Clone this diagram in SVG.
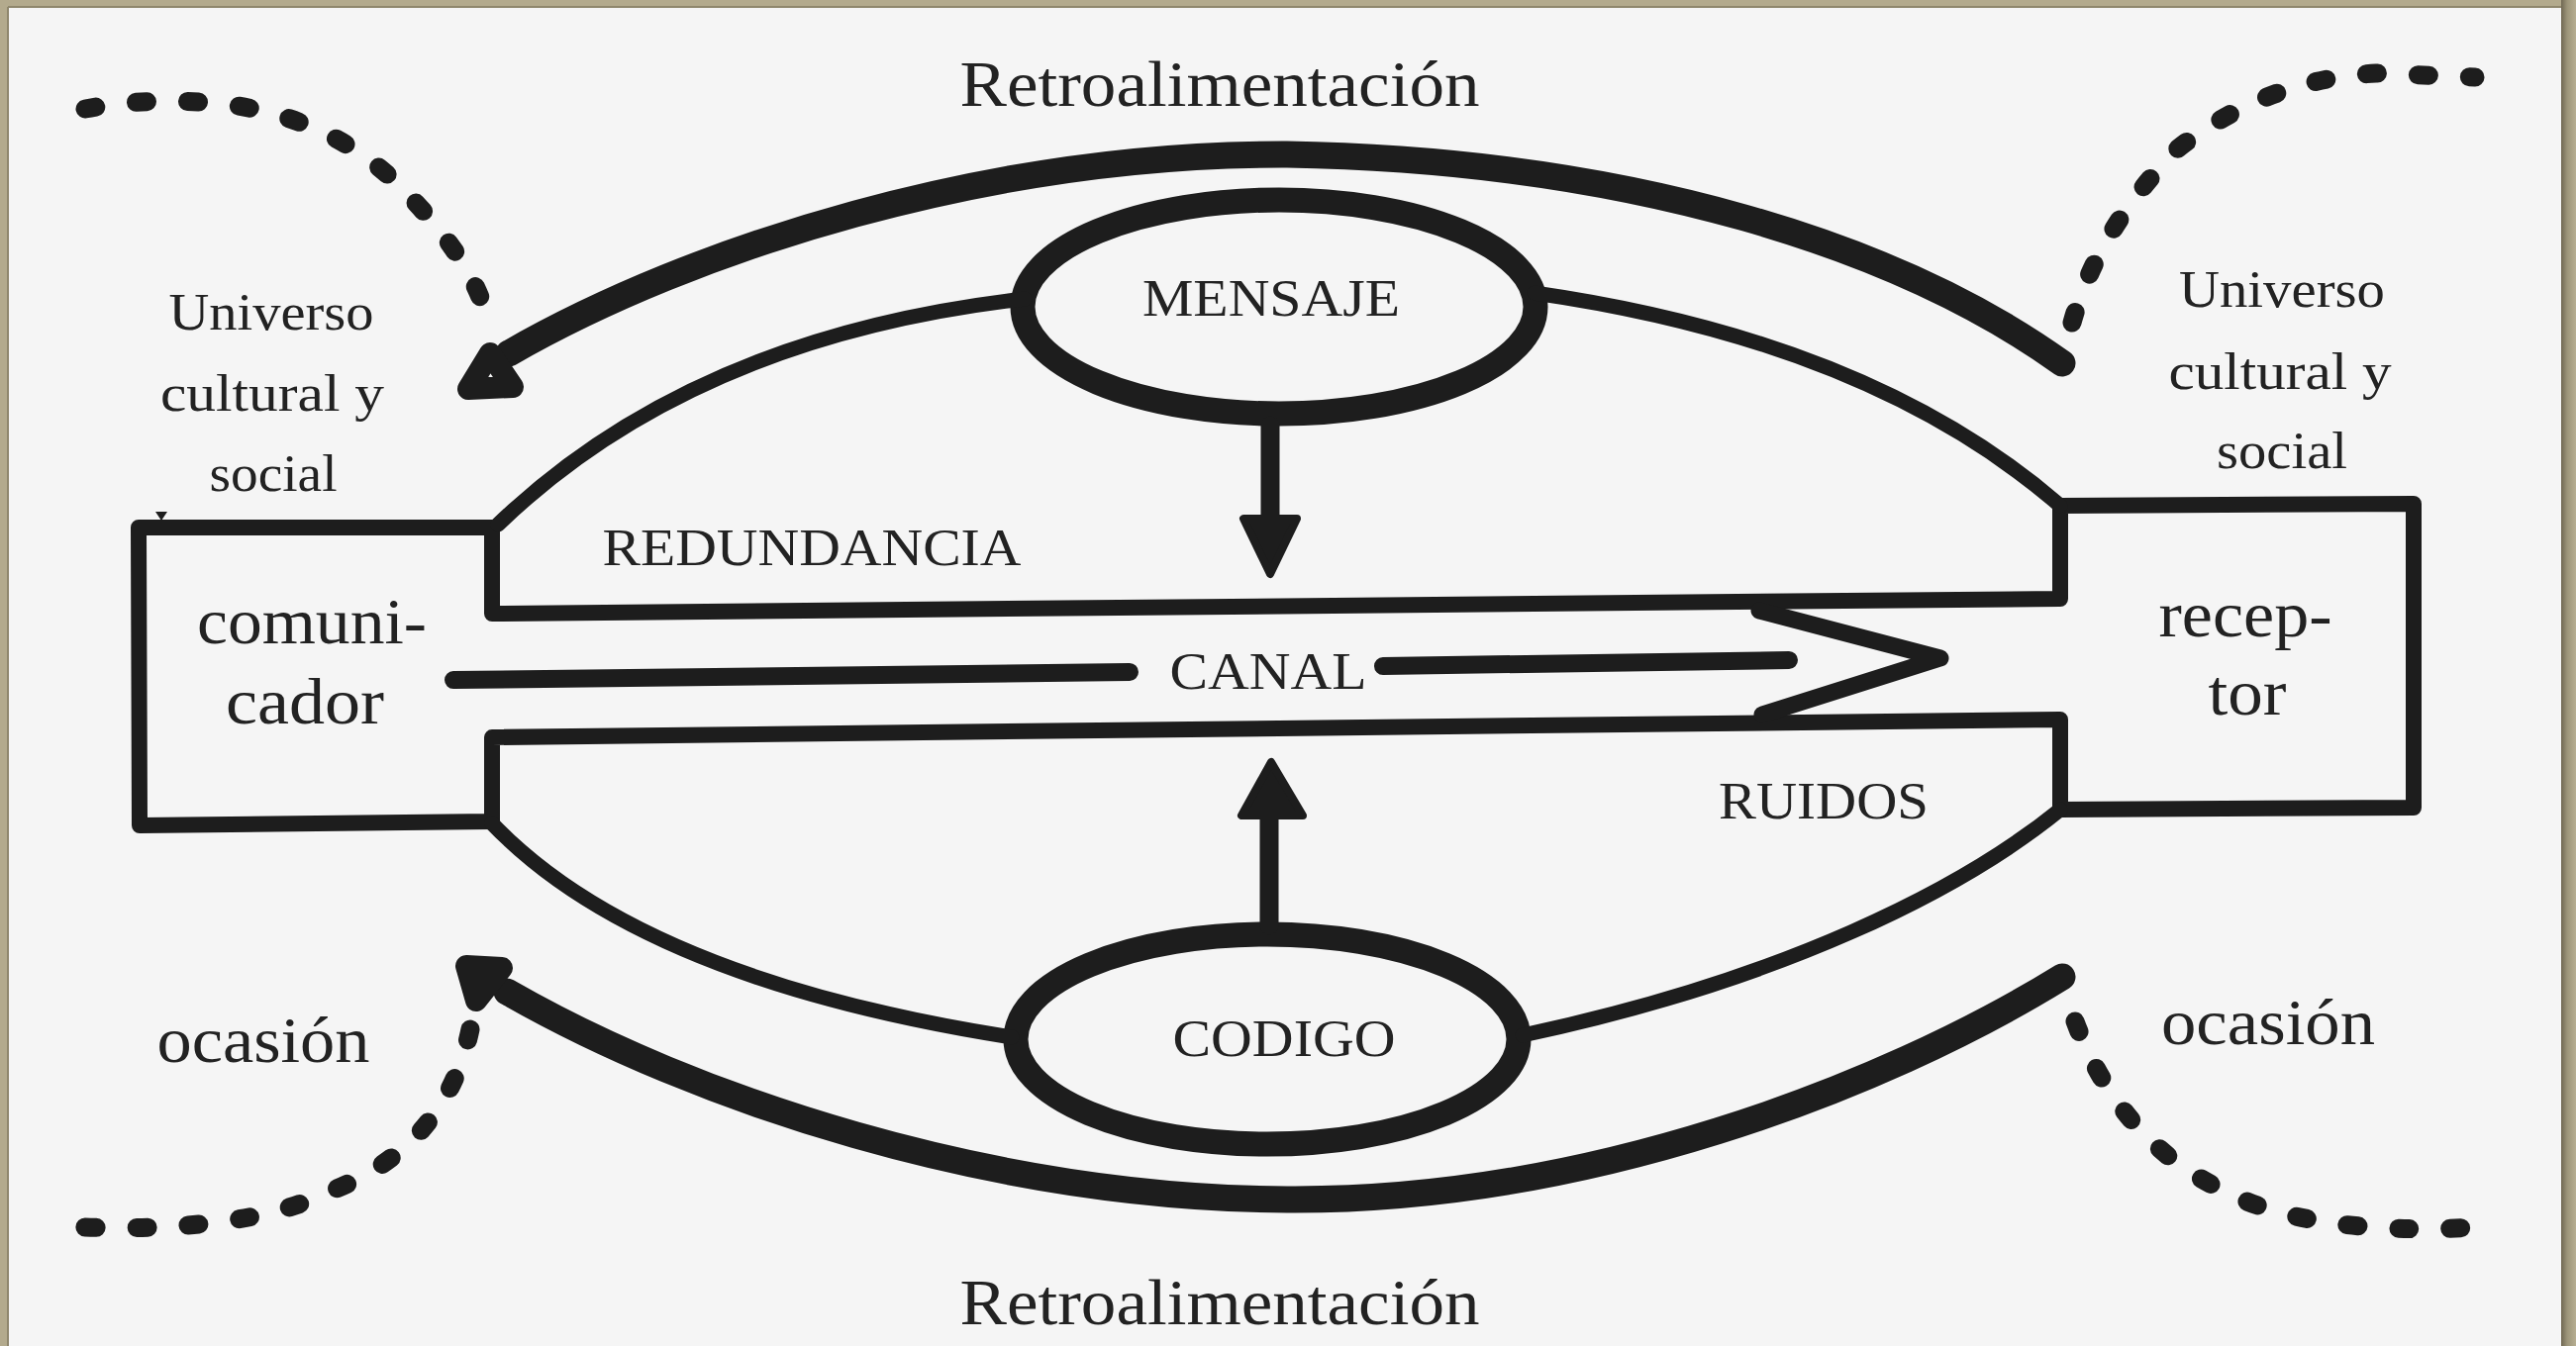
<svg xmlns="http://www.w3.org/2000/svg" width="2602" height="1360" viewBox="0 0 2602 1360">
<defs>
<linearGradient id="frameR" x1="0" y1="0" x2="1" y2="0">
<stop offset="0" stop-color="#6f6752"/>
<stop offset="0.4" stop-color="#9c9479"/>
<stop offset="1" stop-color="#b7ae92"/>
</linearGradient>
<style>
.ink{fill:none;stroke:#1d1d1d;stroke-linecap:round;stroke-linejoin:round}
.box{stroke-width:16}
.thin{stroke-width:15}
.ell{stroke-width:25}
.arc{stroke-width:27}
.dot{stroke-width:19;stroke-dasharray:11 41}
.solid{fill:#1d1d1d;stroke:#1d1d1d;stroke-linejoin:round;stroke-width:8}
.head{fill:#f5f5f5;stroke:#1d1d1d;stroke-width:22;stroke-linejoin:round}
.t{font-family:"Liberation Serif","Times New Roman",serif;fill:#222;text-anchor:middle}
.cap{font-size:52px}
.lab{font-size:52px}
.big{font-size:66px}
</style>
</defs>
<rect x="0" y="0" width="2602" height="1360" fill="#b3aa8d"/>
<rect x="2587" y="0" width="15" height="1360" fill="url(#frameR)"/>
<rect x="8" y="7" width="2579" height="1353" fill="#f5f5f5"/>
<line x1="8" y1="7" x2="2587" y2="7" stroke="#8f876d" stroke-width="2"/>
<line x1="8" y1="7" x2="8" y2="1360" stroke="#8f876d" stroke-width="2"/>

<g id="canal">
<path class="ink box" d="M 497 620 L 497 533 L 140 533 L 141 834 L 497 830 L 497 745 L 2081 727 L 2081 818 L 2438 816 L 2438 509 L 2081 511 L 2081 605 Z"/>
<polygon points="157,517 169,517 163,526" fill="#1d1d1d"/>
<path class="ink" stroke-width="17" d="M 1777 617 L 1960 665 L 1780 722"/>
<text class="t cap" x="1281" y="696" textLength="199" lengthAdjust="spacingAndGlyphs">CANAL</text>
</g>

<g id="comunicador">
<text class="t big" x="315" y="650" textLength="232" lengthAdjust="spacingAndGlyphs">comuni-</text>
<text class="t big" x="308" y="731" textLength="160" lengthAdjust="spacingAndGlyphs">cador</text>
</g>

<g id="receptor">
<text class="t big" x="2268" y="643" textLength="175" lengthAdjust="spacingAndGlyphs">recep-</text>
<text class="t big" x="2270" y="722" textLength="79" lengthAdjust="spacingAndGlyphs">tor</text>
</g>

<g id="mensaje">
<ellipse class="ink ell" cx="1292" cy="310" rx="259" ry="108"/>
<text class="t cap" x="1284" y="319" textLength="260" lengthAdjust="spacingAndGlyphs">MENSAJE</text>
</g>

<g id="codigo">
<ellipse class="ink ell" cx="1280" cy="1050" rx="254" ry="106"/>
<text class="t cap" x="1297" y="1067" textLength="225" lengthAdjust="spacingAndGlyphs">CODIGO</text>
</g>

<g id="labels">
<text class="t cap" x="820" y="571" textLength="423" lengthAdjust="spacingAndGlyphs">REDUNDANCIA</text>
<text class="t cap" x="1842" y="827" textLength="212" lengthAdjust="spacingAndGlyphs">RUIDOS</text>
<text class="t big" x="1232" y="107" textLength="525" lengthAdjust="spacingAndGlyphs">Retroalimentación</text>
<text class="t big" x="1232" y="1338" textLength="525" lengthAdjust="spacingAndGlyphs">Retroalimentación</text>
<text class="t lab" x="274" y="333" textLength="207" lengthAdjust="spacingAndGlyphs">Universo</text>
<text class="t lab" x="275" y="415" textLength="226" lengthAdjust="spacingAndGlyphs">cultural y</text>
<text class="t lab" x="276" y="496" textLength="129" lengthAdjust="spacingAndGlyphs">social</text>
<text class="t lab" x="2305" y="310" textLength="208" lengthAdjust="spacingAndGlyphs">Universo</text>
<text class="t lab" x="2303" y="393" textLength="225" lengthAdjust="spacingAndGlyphs">cultural y</text>
<text class="t lab" x="2305" y="473" textLength="132" lengthAdjust="spacingAndGlyphs">social</text>
<text class="t big" x="266" y="1073" textLength="215" lengthAdjust="spacingAndGlyphs">ocasión</text>
<text class="t big" x="2291" y="1055" textLength="216" lengthAdjust="spacingAndGlyphs">ocasión</text>
</g>

<g id="connectors">
<path class="ink thin" d="M 503 530 Q 700 340 1035 302"/>
<path class="ink thin" d="M 1550 296 Q 1890 345 2081 511"/>
<path class="ink thin" d="M 497 832 C 600 940 780 1010 1022 1048"/>
<path class="ink thin" d="M 1538 1046 C 1800 990 1980 900 2081 818"/>
<line class="ink" stroke-width="19" x1="1283" y1="430" x2="1283" y2="530"/>
<polygon class="solid" points="1256,524 1310,524 1283,580"/>
<line class="ink" stroke-width="19" x1="1282" y1="935" x2="1282" y2="820"/>
<polygon class="solid" points="1254,824 1316,824 1284,770"/>
<line class="ink" stroke-width="18" x1="458" y1="687" x2="1141" y2="679" stroke-linecap="butt"/>
<line class="ink" stroke-width="18" x1="1397" y1="673" x2="1807" y2="667"/>
<path class="ink arc" d="M 514 357 C 700 250 1000 155 1300 156 C 1650 162 1920 250 2083 367"/>
<polygon class="head" points="495,357 473,393 518,391"/>
<path class="ink arc" d="M 512 1002 C 700 1110 1000 1210 1300 1212 C 1600 1214 1900 1100 2083 987"/>
<polygon class="head" points="471,976 507,978 481,1011"/>
<path class="ink dot" d="M 86 110 Q 160 96 240 107 Q 350 125 420 205 Q 480 270 493 325"/>
<path class="ink dot" d="M 2093 326 Q 2120 230 2200 150 Q 2290 80 2400 74 L 2500 78"/>
<path class="ink dot" d="M 475 1040 Q 450 1160 330 1205 Q 250 1245 85 1240"/>
<path class="ink dot" d="M 2096 1032 Q 2140 1150 2240 1200 Q 2330 1250 2503 1240"/>
</g>
</svg>
